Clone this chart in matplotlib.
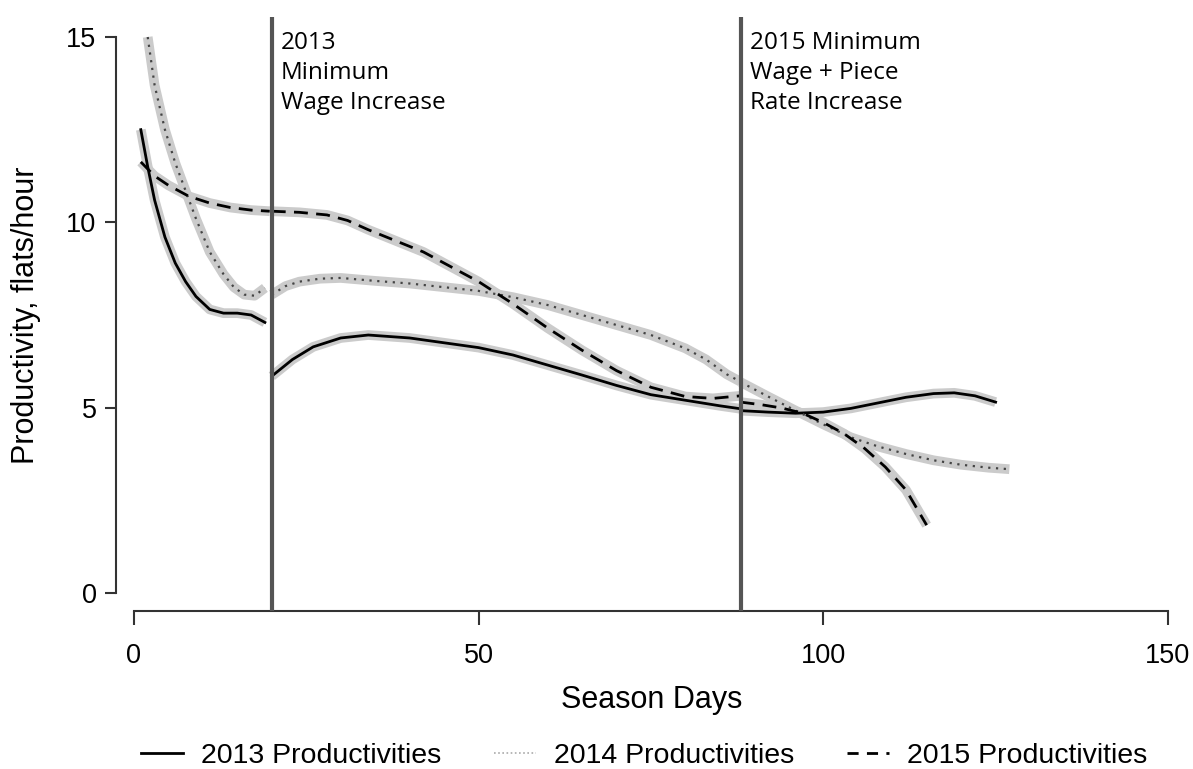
import numpy as np
import matplotlib
matplotlib.use("Agg")
import matplotlib.pyplot as plt
from matplotlib.lines import Line2D

# Data, one list per segment between policy changes
x13_a = [1, 2, 3, 4.5, 6, 7.5, 9, 11, 13, 15, 17, 19]
y13_a = [12.5, 11.5, 10.6, 9.6, 8.9, 8.4, 8.0, 7.65, 7.55, 7.55, 7.5, 7.3]
x13_b = [20, 23, 26, 30, 34, 40, 45, 50, 55, 60, 65, 70, 75, 80, 85, 88]
y13_b = [5.85, 6.3, 6.64, 6.88, 6.96, 6.88, 6.75, 6.62, 6.42, 6.15, 5.88, 5.6, 5.35, 5.2, 5.05, 4.97]
x13_c = [88, 92, 96, 100, 104, 108, 112, 116, 119, 122, 125]
y13_c = [4.92, 4.88, 4.85, 4.88, 4.98, 5.13, 5.28, 5.38, 5.40, 5.32, 5.15]

x14_a = [2, 3, 4.5, 6, 7.5, 9, 11, 13, 14.5, 16, 17.5, 19]
y14_a = [15.0, 13.7, 12.5, 11.6, 10.85, 10.1, 9.2, 8.6, 8.25, 8.05, 8.02, 8.23]
x14_b = [20, 22, 24, 27, 30, 35, 40, 45, 50, 55, 60, 65, 70, 75, 80, 83, 86, 88]
y14_b = [8.05, 8.28, 8.4, 8.48, 8.5, 8.42, 8.35, 8.25, 8.15, 7.98, 7.77, 7.5, 7.23, 6.96, 6.6, 6.3, 5.9, 5.7]
x14_c = [88, 92, 96, 100, 104, 108, 112, 116, 120, 124, 127]
y14_c = [5.69, 5.3, 4.92, 4.55, 4.2, 3.95, 3.75, 3.58, 3.46, 3.38, 3.34]

x15_a = [1, 3, 5, 8, 11, 14, 17, 19.7]
y15_a = [11.63, 11.25, 11.0, 10.7, 10.52, 10.4, 10.33, 10.3]
x15_b = [20, 24, 28, 31, 34, 38, 42, 46, 50, 55, 60, 65, 70, 75, 80, 84, 88]
y15_b = [10.3, 10.27, 10.2, 10.05, 9.8, 9.5, 9.2, 8.8, 8.4, 7.8, 7.15, 6.55, 6.0, 5.55, 5.3, 5.25, 5.32]
x15_c = [88, 91, 94, 97, 100, 103, 106, 109, 112, 115]
y15_c = [5.15, 5.08, 4.99, 4.85, 4.6, 4.3, 3.9, 3.4, 2.78, 1.83]

policy_days = [20, 88]
policy_notes = ["2013\nMinimum\nWage Increase", "2015 Minimum\nWage + Piece\nRate Increase"]
legend_labels = ["2013 Productivities", "2014 Productivities", "2015 Productivities"]

fig = plt.figure(figsize=(11.93, 7.69), dpi=100)
ax = fig.add_axes([116 / 1193, 1 - 611 / 769, (1170 - 116) / 1193, (611 - 17) / 769])
ax.set_xlim(-2.6, 150.3)
ax.set_ylim(-0.486, 15.54)

band = dict(color="#cbcbcb", lw=7, solid_capstyle="butt", zorder=2)
for xs, ys in [(x13_a, y13_a), (x13_b, y13_b), (x13_c, y13_c)]:
    ax.plot(xs, ys, **band)
    ax.plot(xs, ys, color="black", lw=2, zorder=3)
for xs, ys in [(x14_a, y14_a), (x14_b, y14_b), (x14_c, y14_c)]:
    ax.plot(xs, ys, **band)
    ax.plot(xs, ys, color="#444444", lw=1.6, linestyle=(0, (1, 2.5)), zorder=3)
for xs, ys in [(x15_a, y15_a), (x15_b, y15_b), (x15_c, y15_c)]:
    ax.plot(xs, ys, **band)
    ax.plot(xs, ys, color="black", lw=2, linestyle=(0, (5, 3)), zorder=3)

for d, note in zip(policy_days, policy_notes):
    ax.axvline(d, color="#555555", lw=3, zorder=4)
    ax.text(d + 1.3, 15.16, note, va="top", ha="left", fontsize=17.5,
            family="Open Sans", linespacing=1.32, zorder=5)

for s in ["top", "right"]:
    ax.spines[s].set_visible(False)
ax.spines["left"].set_bounds(0, 15)
ax.spines["bottom"].set_bounds(0, 150)
for s in ["left", "bottom"]:
    ax.spines[s].set_color("#333333")
    ax.spines[s].set_linewidth(1.5)

ax.set_xticks([0, 50, 100, 150])
ax.set_yticks([0, 5, 10, 15])
ax.tick_params(axis="y", length=8, width=1.5, color="#333333", pad=6, labelsize=19.5)
ax.tick_params(axis="x", length=10, width=1.5, color="#333333", pad=13, labelsize=19.5)
for lab in ax.get_xticklabels() + ax.get_yticklabels():
    lab.set_family("Liberation Sans")

ax.set_xlabel("Season Days", fontsize=22, family="Liberation Sans")
ax.set_ylabel("Productivity, flats/hour", fontsize=22, family="Liberation Sans")
ax.xaxis.set_label_coords(0.508, -0.125)
ax.yaxis.set_label_coords(-0.071, 0.498)

handles = [
    Line2D([], [], color="black", lw=2),
    Line2D([], [], color="#aaaaaa", lw=1.2, linestyle=(0, (1, 1.5))),
    Line2D([], [], color="black", lw=2, linestyle=(0, (4, 3))),
]
leg = fig.legend(handles, legend_labels, loc="center", bbox_to_anchor=(0.540, 0.0165),
                 ncol=3, frameon=False, columnspacing=1.86, handlelength=1.47,
                 handletextpad=0.63, borderpad=0.2,
                 prop={"family": "Liberation Sans", "size": 20.5})

fig.savefig("out.png", dpi=100)
